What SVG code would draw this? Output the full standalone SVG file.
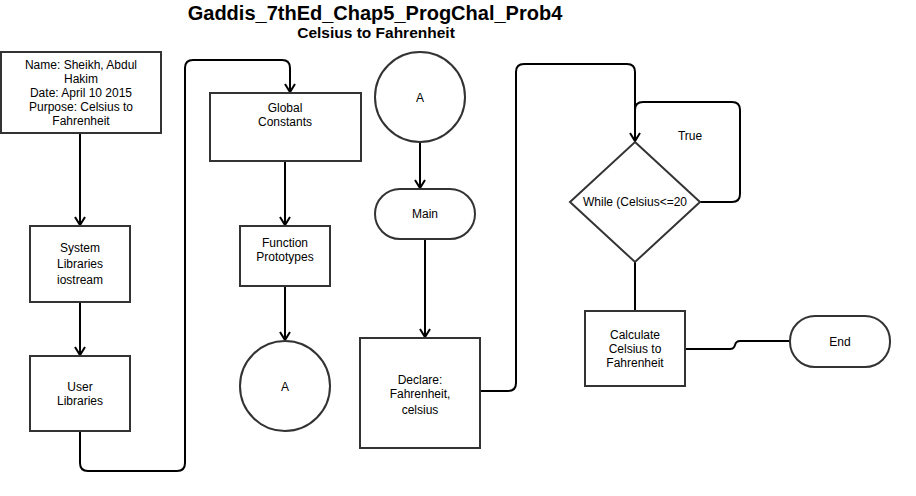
<svg xmlns="http://www.w3.org/2000/svg" width="916" height="496" viewBox="0 0 916 496">
<style>
.n{fill:#fff;stroke:#333;stroke-width:2}
.t{font-family:"Liberation Sans",Arial,sans-serif;font-size:12px;fill:#000;text-anchor:middle}
.c{fill:none;stroke:#000;stroke-width:2}
.h{font-family:"Liberation Sans",Arial,sans-serif;font-weight:bold;fill:#000;text-anchor:middle}
</style>
<defs>
<marker id="ar" viewBox="0 0 12 12" refX="10" refY="6" markerWidth="12" markerHeight="12" markerUnits="userSpaceOnUse" orient="auto">
<path d="M2,1 L10,6 L2,11" fill="none" stroke="#000" stroke-width="2"/>
</marker>
</defs>
<rect width="916" height="496" fill="#fff"/>
<text class="h" x="375" y="19.5" font-size="20">Gaddis_7thEd_Chap5_ProgChal_Prob4</text>
<text class="h" x="376" y="38" font-size="15.5">Celsius to Fahrenheit</text>

<g id="connectors">
<path class="c" d="M80,133 V225" marker-end="url(#ar)"/>
<path class="c" d="M80,302 V355" marker-end="url(#ar)"/>
<path class="c" d="M80,431 V463 Q80,471 88,471 H177 Q185,471 185,463 V68 Q185,60 193,60 H282 Q290,60 290,68 V92" marker-end="url(#ar)"/>
<path class="c" d="M285,161 V225" marker-end="url(#ar)"/>
<path class="c" d="M285,286 V340" marker-end="url(#ar)"/>
<path class="c" d="M420,142 V188" marker-end="url(#ar)"/>
<path class="c" d="M425,239 V337" marker-end="url(#ar)"/>
<path class="c" d="M480,391 H508 Q516,391 516,383 V72 Q516,64 524,64 H627 Q635,64 635,72 V141" marker-end="url(#ar)"/>
<path class="c" d="M700,202 H732 Q740,202 740,194 V110 Q740,102 732,102 H643 Q635,102 635,110 V141"/>
<path class="c" d="M635,262 V311"/>
<path class="c" d="M685,349 H730 Q734,349 735,345 Q736,341 740,341 H790"/>
</g>

<g id="header">
<rect class="n" x="1" y="52" width="160" height="81"/>
<text class="t" x="81" y="69">Name: Sheikh, Abdul</text>
<text class="t" x="81" y="83">Hakim</text>
<text class="t" x="81" y="97">Date: April 10 2015</text>
<text class="t" x="81" y="111">Purpose: Celsius to</text>
<text class="t" x="81" y="125">Fahrenheit</text>
</g>
<g id="syslib">
<rect class="n" x="30" y="226" width="100" height="76"/>
<text class="t" x="80" y="252">System</text>
<text class="t" x="80" y="268">Libraries</text>
<text class="t" x="80" y="284">iostream</text>
</g>
<g id="userlib">
<rect class="n" x="30" y="356" width="100" height="75"/>
<text class="t" x="80" y="391">User</text>
<text class="t" x="80" y="405">Libraries</text>
</g>
<g id="global">
<rect class="n" x="210" y="93" width="151" height="68"/>
<text class="t" x="285" y="112">Global</text>
<text class="t" x="285" y="126">Constants</text>
</g>
<g id="proto">
<rect class="n" x="240" y="226" width="90" height="60"/>
<text class="t" x="285" y="247">Function</text>
<text class="t" x="285" y="261">Prototypes</text>
</g>
<g id="connA1">
<circle class="n" cx="285" cy="386" r="45"/>
<text class="t" x="285" y="391">A</text>
</g>
<g id="connA2">
<circle class="n" cx="420" cy="97" r="45"/>
<text class="t" x="420" y="102">A</text>
</g>
<g id="main">
<rect class="n" x="375" y="189" width="100" height="50" rx="25"/>
<text class="t" x="425" y="218">Main</text>
</g>
<g id="declare">
<rect class="n" x="360" y="338" width="120" height="110"/>
<text class="t" x="420" y="384">Declare:</text>
<text class="t" x="420" y="398">Fahrenheit,</text>
<text class="t" x="420" y="414">celsius</text>
</g>
<g id="while">
<polygon class="n" points="635,142 700,202 635,262 570,202"/>
<text class="t" x="635" y="206">While (Celsius&lt;=20</text>
</g>
<text class="t" x="690" y="140">True</text>
<g id="calc">
<rect class="n" x="585" y="311" width="100" height="75"/>
<text class="t" x="635" y="339">Calculate</text>
<text class="t" x="635" y="353">Celsius to</text>
<text class="t" x="635" y="367">Fahrenheit</text>
</g>
<g id="end">
<rect class="n" x="790" y="316" width="100" height="51" rx="25"/>
<text class="t" x="840" y="346">End</text>
</g>
</svg>
